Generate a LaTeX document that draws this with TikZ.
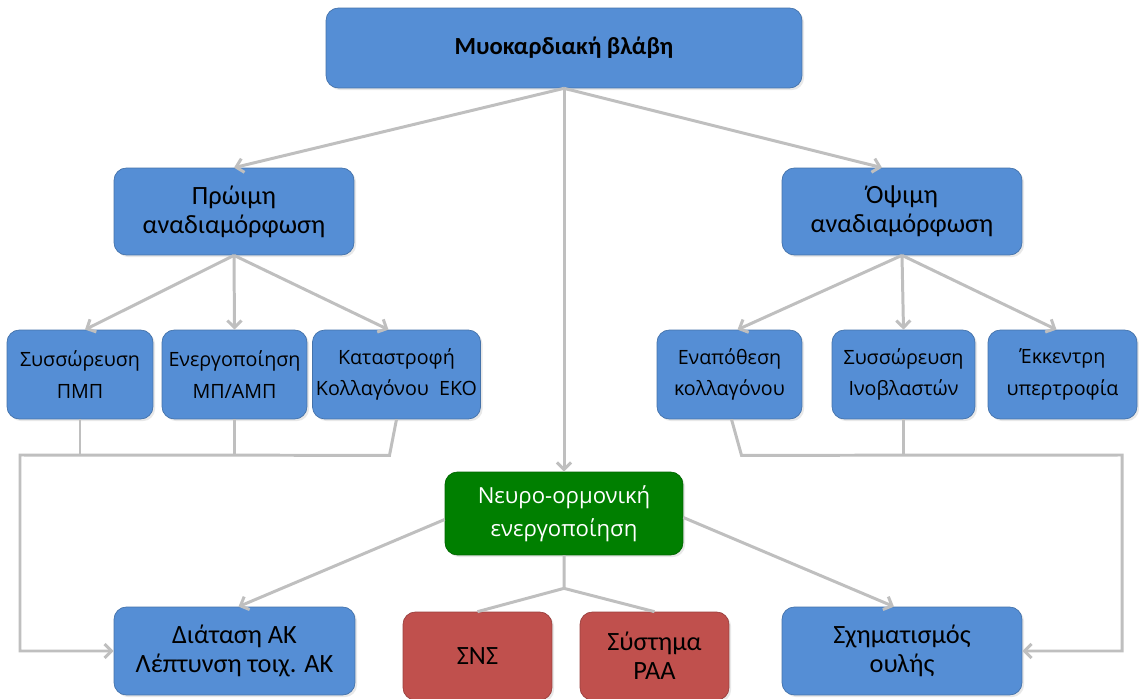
\documentclass[tikz,border=0pt]{standalone}
\usepackage{fontspec}
\setmainfont{Carlito}
\newfontfamily\opensans{Open Sans}
\usetikzlibrary{arrows.meta,calc,shadows}

\definecolor{boxblue}{HTML}{558ED5}
\definecolor{boxred}{HTML}{C0504D}
\definecolor{boxgreen}{HTML}{007F00}
\definecolor{linegray}{HTML}{BFBFBF}

\newcommand\titlefs{\bfseries\fontsize{14}{17}\selectfont}
\newcommand\mainfs{\fontsize{15}{16.5}\selectfont}
\newcommand\smallfs{\opensans\fontsize{11.2}{18}\selectfont}

\begin{document}
\begin{tikzpicture}[x=0.02cm,y=-0.02cm,
  box/.style={draw=#1!80!black,line width=0.4pt,fill=#1,rounded corners=7pt,align=center,inner sep=2pt,
    text=black,drop shadow={opacity=0.18,shadow xshift=1.2pt,shadow yshift=-1.2pt}},
  step3/.style={box=boxblue,minimum height=1.78cm,font=\smallfs},
  link/.style={draw=linegray,line width=1.7pt,-{Straight Barb[length=4pt,width=8pt]}},
  bus/.style={draw=linegray,line width=1.7pt}]
  \useasboundingbox (0,0) rectangle (1139,699);
  % levels 1 and 2
  \node[box=boxblue,minimum width=9.52cm,minimum height=1.6cm,font=\titlefs] (injury) at (564,48) {Μυοκαρδιακή βλάβη};
  \node[box=boxblue,minimum width=4.8cm,minimum height=1.74cm,font=\mainfs] (early) at (234,211.5) {Πρώιμη\\αναδιαμόρφωση};
  \node[box=boxblue,minimum width=4.8cm,minimum height=1.74cm,font=\mainfs] (late) at (902,211.5) {Όψιμη\\αναδιαμόρφωση};
  % level 3
  \foreach \name/\x/\w/\txt in {pmp/80/2.92/{Συσσώρευση\\ΠΜΠ},mp/234.5/2.9/{Ενεργοποίηση\\ΜΠ/ΑΜΠ},
      eko/396.5/3.22/{Καταστροφή\\Κολλαγόνου\ \ ΕΚΟ},coll/729.5/2.9/{Εναπόθεση\\κολλαγόνου},
      fib/903.5/2.86/{Συσσώρευση\\Ινοβλαστών},ecc/1062.5/2.98/{Έκκεντρη\\υπερτροφία}}
    \node[step3,minimum width=\w cm] (\name) at (\x,374.5) {\txt};
  % neurohormonal and outcomes
  \node[box=boxgreen,text=white,minimum width=4.76cm,minimum height=1.66cm,font=\opensans\fontsize{12.6}{18.5}\selectfont] (neuro) at (564,513.5) {Νευρο-ορμονική\\ενεργοποίηση};
  \node[box=boxblue,minimum width=4.82cm,minimum height=1.76cm,font=\mainfs] (dil) at (234.5,651) {Διάταση ΑΚ\\Λέπτυνση τοιχ. ΑΚ};
  \node[box=boxblue,minimum width=4.8cm,minimum height=1.76cm,font=\mainfs] (scar) at (902,651) {Σχηματισμός\\ουλής};
  \node[box=boxred,minimum width=2.98cm,minimum height=1.76cm,font=\mainfs] (sns) at (477.5,656) {ΣΝΣ};
  \node[box=boxred,minimum width=2.98cm,minimum height=1.76cm,font=\mainfs] (raa) at (654.5,656) {Σύστημα\\ΡΑΑ};
  % connectors
  \draw[link] (injury.south) -- (early.north);
  \draw[link] (injury.south) -- ($(late.north)+(-20,0)$);
  \draw[link] (injury.south) -- (neuro.north);
  \draw[link] (early.south) -- ($(pmp.north)+(5,0)$);
  \draw[link] (early.south) -- (mp.north);
  \draw[link] (early.south) -- ($(eko.north)+(-8,0)$);
  \draw[link] (late.south) -- ($(coll.north)+(8,0)$);
  \draw[link] (late.south) -- (fib.north);
  \draw[link] (late.south) -- ($(ecc.north)+(-6,0)$);
  % feedback buses
  \coordinate (lbus) at (20,455);
  \coordinate (rbus) at (1122,455);
  \draw[bus] (pmp.south) -- (pmp.south |- lbus);
  \draw[bus] (mp.south) -- (mp.south |- lbus);
  \draw[link] (eko.south) -- ++(-7,36) -- (lbus) |- (dil.west);
  \draw[bus] (fib.south) -- (fib.south |- rbus);
  \draw[bus] ($(ecc.south)+(10,0)$) -- ($(ecc.south)+(10,0)$ |- rbus);
  \draw[link] ($(coll.south)+(2,0)$) -- ++(10,36) -- (rbus) |- (scar.east);
  % neurohormonal branches
  \draw[link] ($(neuro.west)+(0,6)$) -- ($(dil.north)+(4,0)$);
  \draw[link] ($(neuro.east)+(0,4)$) -- ($(scar.north)+(-8,0)$);
  \coordinate (split) at ($(neuro.south)+(0,33)$);
  \draw[bus] (neuro.south) -- (split) -- (sns.north);
  \draw[bus] (split) -- (raa.north);
\end{tikzpicture}
\end{document}
